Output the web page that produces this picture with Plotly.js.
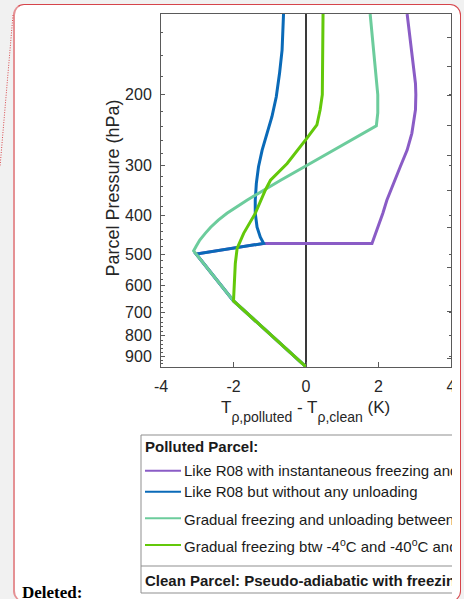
<!DOCTYPE html>
<html>
<head>
<meta charset="utf-8">
<script src="https://cdn.plot.ly/plotly-3.0.1.min.js"></script>
<style>
html,body{margin:0;padding:0;background:#f1f1f1;width:464px;height:599px;overflow:hidden;position:relative}
#frame{position:absolute;left:13px;top:4px;width:448px;height:598px;background:#fff;border:1px solid #d6444a;border-left:2px solid #e59194;border-radius:11px;box-sizing:border-box}
#dots{position:absolute;left:0;top:0;width:464px;height:599px}
#clip{position:absolute;left:0;top:0;width:452px;height:599px;overflow:hidden}
#chart{position:absolute;left:0;top:0;width:480px;height:599px}
#deleted{position:absolute;left:22px;top:584px;font:bold 17px "Liberation Serif","Times New Roman",serif;line-height:17px;color:#000}
</style>
</head>
<body>
<div id="frame"></div>
<svg id="dots"><line x1="13" y1="15" x2="0" y2="167" stroke="#d9484c" stroke-width="1" stroke-dasharray="1,1.5"/></svg>
<div id="clip"><div id="chart"></div></div>
<div id="deleted">Deleted:</div>
<script>
// ---- data (pressure in hPa, temperature difference in K) ----
const purpleP = [125.7,154.7,187.5,200,218,249.7,275,302.7,333,367,395.5,470.4,470.4,500,655,957];
const purpleX = [2.79,2.92,3.02,3.03,3.02,2.92,2.79,2.60,2.42,2.23,2.12,1.82,-1.17,-3.03,-2.0,0];

const blueP = [125.7,154.7,176.8,202.3,227,249.7,275,302.7,333,367,395.5,428.5,454,470.4,500,655,957];
const blueX = [-0.62,-0.66,-0.73,-0.82,-0.94,-1.08,-1.21,-1.31,-1.37,-1.40,-1.40,-1.35,-1.26,-1.17,-3.03,-2.0,0];

const tealP = [125.7,154.7,187.5,200,222,239.3,300,327,367,395.5,411.5,428.5,444,461.5,478,491,655,957];
const tealX = [1.77,1.87,1.96,1.98,1.98,1.94,0.03,-0.70,-1.63,-2.18,-2.42,-2.63,-2.78,-2.93,-3.03,-3.10,-2.0,0];

const greenP = [125.7,154.7,187.5,200,218,238,258.5,297,327,346,395.8,444,484,528,655,957];
const greenX = [0.47,0.47,0.46,0.45,0.39,0.30,0.0,-0.52,-0.98,-1.12,-1.40,-1.72,-1.90,-1.95,-2.0,0];

const seriesNames = [
  "Like R08 with instantaneous freezing and unloading",
  "Like R08 but without any unloading",
  "Gradual freezing and unloading between -4<sup>o</sup>C and -40<sup>o</sup>C",
  "Gradual freezing btw -4<sup>o</sup>C and -40<sup>o</sup>C and no unloading"
];
const legendTitle = "Polluted Parcel:";
const cleanLabel = "Clean Parcel: Pseudo-adiabatic with freezing";

const xTicks = [-4,-2,0,2,4];
const xTickText = ["-4","-2","0","2","4"];
const pressureTicks = [200,300,400,500,600,700,800,900];
const minorPressureTicks = [140,160,180,220,240,260,280,320,340,360,380,420,440,460,480,520,540,560,580,620,640,660,680,720,740,760,780,820,840,860,880,920,940];
const rightTicks = [143.7,170.2,201.2,238.5,284.1,346.2,429.1,540.2,694.7,912];
const pRange = [957.8, 125.7];

// ---- styles ----
const colors = ["#8a5cc6","#0a6ab8","#6ccc9c","#63c80a"];
const FONT = '"Liberation Sans", Arial, Helvetica, sans-serif';
const axCol = "#5a5a5a";

// plot geometry helpers (pixels of the 480x599 figure)
const L = 161, R = 451, T = 14, B = 367;
const px = v => (v - L) / (R - L);
const py = v => (B - v) / (B - T);

const series = [[purpleX,purpleP],[blueX,blueP],[tealX,tealP],[greenX,greenP]];
const traces = series.map((s,i) => ({
  type: "scatter", mode: "lines", x: s[0], y: s[1], name: seriesNames[i],
  line: {color: colors[i], width: 3}, hoverinfo: "skip", showlegend: false,
  yaxis: i === 3 ? "y2" : "y"
}));

const shapes = [];
const annotations = [];
// legend box
shapes.push({type:"rect", xref:"paper", yref:"paper", x0:px(141), x1:px(520), y0:py(593), y1:py(435),
  line:{color:"#8f8f8f", width:1}, fillcolor:"#ffffff", layer:"above"});
shapes.push({type:"line", xref:"paper", yref:"paper", x0:px(141), x1:px(520), y0:py(566), y1:py(566),
  line:{color:"#8f8f8f", width:1}});
annotations.push({xref:"paper", yref:"paper", x:px(143), y:py(446), xanchor:"left", yanchor:"middle",
  text:"<b>"+legendTitle+"</b>", showarrow:false, font:{family:FONT, size:15, color:"#1a1a1a"}});
annotations.push({xref:"paper", yref:"paper", x:px(143), y:py(580.5), xanchor:"left", yanchor:"middle",
  text:"<b>"+cleanLabel+"</b>", showarrow:false, font:{family:FONT, size:15, color:"#1a1a1a"}});
const entryY = [470.7, 491.7, 518.3, 545];
seriesNames.forEach((n,i) => {
  shapes.push({type:"line", xref:"paper", yref:"paper", x0:px(145), x1:px(181), y0:py(entryY[i]), y1:py(entryY[i]),
    line:{color:colors[i], width:2}});
  annotations.push({xref:"paper", yref:"paper", x:px(182), y:py(entryY[i]), xanchor:"left", yanchor:"middle",
    text:n, showarrow:false, font:{family:FONT, size:15, color:"#1a1a1a"}});
});
// axis titles
annotations.push({xref:"paper", yref:"paper", x:px(112), y:py(188.5), xanchor:"center", yanchor:"middle",
  text:"Parcel Pressure (hPa)", textangle:-90, showarrow:false, font:{family:FONT, size:18, color:"#262626"}});
annotations.push({xref:"paper", yref:"paper", x:px(305.5), y:py(412), xanchor:"center", yanchor:"middle",
  text:'T<span style="font-size:14px;baseline-shift:-9px">\u03c1,polluted</span> - T<span style="font-size:14px;baseline-shift:-9px">\u03c1,clean</span> (K)',
  showarrow:false, font:{family:FONT, size:17, color:"#262626"}});

const layout = {
  width: 480, height: 599,
  margin: {l: L, r: 480 - R, t: T, b: 599 - B, pad: 0},
  paper_bgcolor: "rgba(0,0,0,0)", plot_bgcolor: "#ffffff",
  showlegend: false,
  font: {family: FONT, size: 16, color: "#262626"},
  xaxis: {range: [-4, 4], tickvals: xTicks, ticktext: xTickText, ticks: "inside", ticklen: 5, tickcolor: axCol,
    showline: true, linecolor: axCol, linewidth: 1, mirror: true, showgrid: false,
    zeroline: true, zerolinecolor: "#3a3a3a", zerolinewidth: 1.3,
    tickfont: {family: FONT, size: 16, color: "#262626"}, ticklabelstandoff: 5, fixedrange: true},
  yaxis: {type: "log", range: pRange.map(Math.log10), tickvals: pressureTicks, ticktext: pressureTicks.map(String),
    ticks: "inside", ticklen: 4, tickcolor: axCol, showline: true, linecolor: axCol, linewidth: 1,
    mirror: false, showgrid: false, zeroline: false,
    minor: {tickmode: "array", tickvals: minorPressureTicks, ticks: "inside", ticklen: 2, tickcolor: axCol, showgrid: false},
    tickfont: {family: FONT, size: 16, color: "#262626"}, ticklabelstandoff: 5, fixedrange: true},
  yaxis2: {type: "log", overlaying: "y", side: "right", range: pRange.map(Math.log10), tickvals: rightTicks,
    showticklabels: false, ticks: "inside", ticklen: 4, tickcolor: axCol, showline: true, linecolor: axCol, linewidth: 1,
    showgrid: false, zeroline: false,
    minor: {tickmode: "array", tickvals: pressureTicks, ticks: "inside", ticklen: 2, tickcolor: axCol, showgrid: false},
    fixedrange: true},
  shapes: shapes,
  annotations: annotations
};

Plotly.newPlot("chart", traces, layout, {staticPlot: true, displayModeBar: false});
</script>
</body>
</html>
